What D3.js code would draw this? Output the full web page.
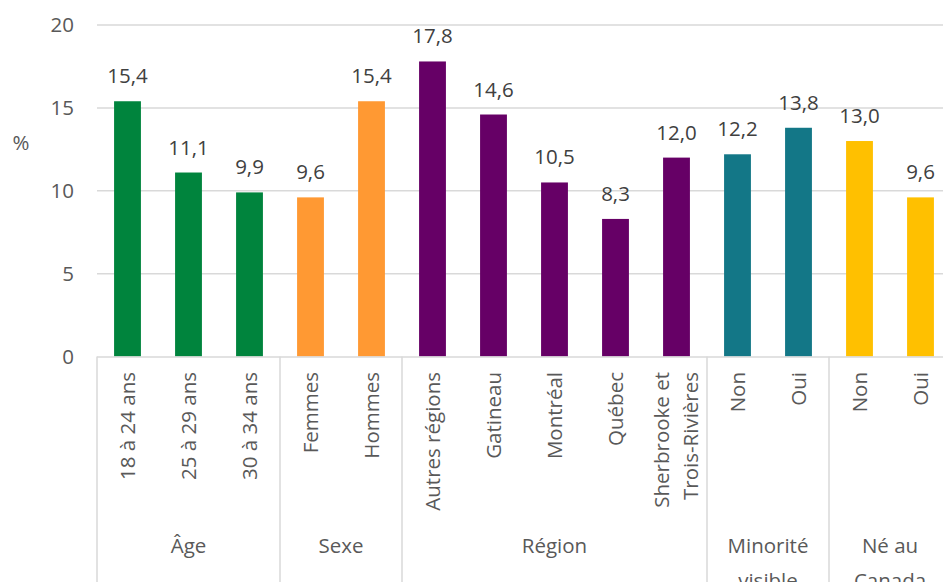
<!doctype html>
<html>
<head>
<meta charset="utf-8">
<script src="https://d3js.org/d3.v7.min.js"></script>
<style>
  body { margin: 0; background: #fff; }
  svg text { font-family: "Open Sans", "Noto Sans", sans-serif; }
</style>
</head>
<body>
<script>
// data
var categories = ["18 à 24 ans", "25 à 29 ans", "30 à 34 ans", "Femmes", "Hommes",
  "Autres régions", "Gatineau", "Montréal", "Québec", "Sherbrooke et Trois-Rivières",
  "Non", "Oui", "Non", "Oui"];
var values = [15.4, 11.1, 9.9, 9.6, 15.4, 17.8, 14.6, 10.5, 8.3, 12.0, 12.2, 13.8, 13.0, 9.6];
var groupOf = [0, 0, 0, 1, 1, 2, 2, 2, 2, 2, 3, 3, 4, 4];
var groups = ["Âge", "Sexe", "Région", "Minorité visible", "Né au Canada"];
var groupColors = ["#00843d", "#ff9933", "#660066", "#137787", "#ffc000"];
var yTicks = [0, 5, 10, 15, 20];

var width = 943, height = 582;
var plotLeft = 97, plotRight = 951, plotTop = 25, zeroY = 356.5;
var fs = "20.5px";

var svg = d3.select("body").append("svg").attr("width", width).attr("height", height);

var x = d3.scaleBand().domain(d3.range(categories.length)).range([plotLeft, plotRight]).paddingInner(0.56).paddingOuter(0.28);
var y = d3.scaleLinear().domain([0, 20]).range([zeroY, plotTop]);

// grid
svg.append("g").selectAll("line").data(yTicks.slice(1)).enter().append("line")
  .attr("x1", plotLeft).attr("x2", width).attr("y1", d => y(d)).attr("y2", d => y(d))
  .attr("stroke", "#d9d9d9").attr("stroke-width", 1.5);

// y axis labels
var yAxis = d3.axisLeft(y).tickValues(yTicks).tickSize(0).tickPadding(0);
var ya = svg.append("g").attr("transform", "translate(74,0)").call(yAxis);
ya.select(".domain").remove();
ya.selectAll("text").style("font-size", fs).attr("fill", "#595959")
  .style("font-family", "'Open Sans', sans-serif");

svg.append("text").attr("x", 21).attr("y", 145).attr("text-anchor", "middle")
  .attr("dominant-baseline", "middle").style("font-size", fs).attr("fill", "#595959").text("%");

// bars
svg.append("g").selectAll("rect").data(values).enter().append("rect")
  .attr("x", (d, i) => x(i)).attr("width", x.bandwidth())
  .attr("y", d => y(d)).attr("height", d => y(0) - y(d))
  .attr("fill", (d, i) => groupColors[groupOf[i]]);

// value labels
svg.append("g").selectAll("text").data(values).enter().append("text")
  .attr("x", (d, i) => x(i) + x.bandwidth() / 2).attr("y", d => y(d) - 18)
  .attr("text-anchor", "middle").style("font-size", fs).attr("fill", "#404040")
  .text(d => d3.format(".1f")(d).replace(".", ","));

// category axis line
svg.append("line").attr("x1", plotLeft).attr("x2", width).attr("y1", zeroY + 0.5).attr("y2", zeroY + 0.5)
  .attr("stroke", "#d9d9d9").attr("stroke-width", 1.5);

// group boundaries
var step = x.step();
var bounds = [];
groups.forEach(function(g, gi) {
  var idx = d3.range(categories.length).filter(i => groupOf[i] == gi);
  bounds.push({ g: g, start: plotLeft + d3.min(idx) * step, end: plotLeft + (d3.max(idx) + 1) * step });
});
svg.append("g").selectAll("line").data(bounds).enter().append("line")
  .attr("x1", d => d.start).attr("x2", d => d.start).attr("y1", zeroY).attr("y2", height)
  .attr("stroke", "#d9d9d9").attr("stroke-width", 1.5);

// rotated category labels
var cat = svg.append("g").selectAll("g").data(categories).enter().append("g")
  .attr("transform", (d, i) => "translate(" + (x(i) + x.bandwidth() / 2) + ",372) rotate(-90)");
cat.each(function(d) {
  var lines = d == "Sherbrooke et Trois-Rivières" ? ["Sherbrooke et", "Trois-Rivières"] : [d];
  var t = d3.select(this).append("text").attr("text-anchor", "end")
    .style("font-size", fs).attr("fill", "#595959");
  lines.forEach(function(l, li) {
    t.append("tspan").attr("x", 0).attr("y", (li - (lines.length - 1) / 2) * 29 + 7).text(l);
  });
});

// group labels (second line runs off the bottom edge, as in the original)
var gl = svg.append("g").selectAll("text").data(bounds).enter().append("text")
  .attr("x", d => (d.start + d.end) / 2).attr("y", 553)
  .attr("text-anchor", "middle").style("font-size", fs).attr("fill", "#595959");
gl.each(function(d) {
  var t = d3.select(this);
  var words = d.g == "Minorité visible" ? ["Minorité", "visible"] : d.g == "Né au Canada" ? ["Né au", "Canada"] : [d.g];
  words.forEach(function(w, wi) {
    t.append("tspan").attr("x", (d.start + d.end) / 2).attr("dy", wi == 0 ? 0 : 35).text(w);
  });
});
</script>
</body>
</html>
